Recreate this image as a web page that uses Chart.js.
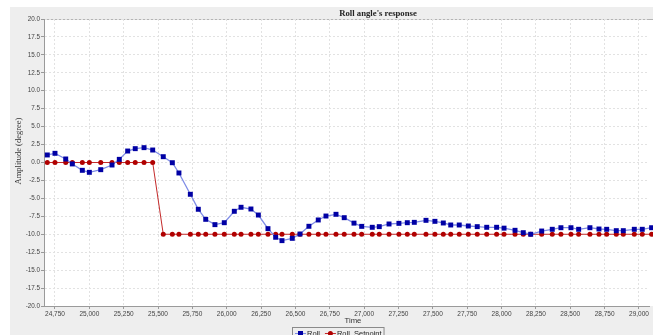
<!DOCTYPE html>
<html><head><meta charset="utf-8">
<script src="https://cdn.jsdelivr.net/npm/chart.js@4"></script>
<style>html,body{margin:0;padding:0;background:#fff;overflow:hidden}#wrap{width:653px;height:335px;position:relative}</style>
</head><body><div id="wrap"><canvas id="c" width="653" height="335"></canvas></div>
<script>
const chartTitle = "Roll angle's response";
const xTitle = "Time";
const yTitle = "Amplitude (degree)";
const seriesNames = ["Roll", "Roll_Setpoint"];
const times = [24694,24750,24828,24876,24949,25000,25083,25165,25218,25279,25334,25398,25461,25538,25604,25652,25735,25793,25847,25914,25982,26055,26104,26176,26230,26300,26356,26402,26477,26533,26598,26666,26722,26795,26855,26926,26982,27059,27110,27181,27253,27314,27365,27450,27515,27576,27630,27692,27758,27823,27892,27964,28018,28098,28158,28212,28292,28369,28432,28505,28561,28643,28709,28765,28835,28886,28966,29024,29092];
const roll = [1.05,1.28,0.49,-0.2,-1.09,-1.37,-1.0,-0.35,0.44,1.6,1.93,2.07,1.74,0.81,-0.03,-1.46,-4.43,-6.52,-7.92,-8.66,-8.39,-6.8,-6.24,-6.48,-7.32,-9.22,-10.42,-10.89,-10.57,-9.97,-8.89,-8.01,-7.46,-7.22,-7.69,-8.45,-8.9,-9.03,-8.94,-8.57,-8.48,-8.39,-8.34,-8.06,-8.2,-8.43,-8.71,-8.71,-8.85,-8.94,-9.03,-9.03,-9.15,-9.45,-9.78,-10.0,-9.55,-9.31,-9.09,-9.09,-9.31,-9.09,-9.27,-9.31,-9.5,-9.5,-9.31,-9.31,-9.09];
const setpoint = [0,0,0,0,0,0,0,0,0,0,0,0,0,-10,-10,-10,-10,-10,-10,-10,-10,-10,-10,-10,-10,-10,-10,-10,-10,-10,-10,-10,-10,-10,-10,-10,-10,-10,-10,-10,-10,-10,-10,-10,-10,-10,-10,-10,-10,-10,-10,-10,-10,-10,-10,-10,-10,-10,-10,-10,-10,-10,-10,-10,-10,-10,-10,-10,-10,-10];
const xTicks = [24750,25000,25250,25500,25750,26000,26250,26500,26750,27000,27250,27500,27750,28000,28250,28500,28750,29000];
const yTicks = [20,17.5,15,12.5,10,7.5,5,2.5,0,-2.5,-5,-7.5,-10,-12.5,-15,-17.5,-20];

const SANS = "'Liberation Sans', Arial, sans-serif";
const SERIF = "'Liberation Serif', 'Times New Roman', serif";

const deco = {
  id: 'deco',
  beforeDraw(chart) {
    const {ctx, chartArea: a, width, height} = chart;
    ctx.save();
    ctx.fillStyle = '#ffffff'; ctx.fillRect(0, 0, width, height);
    ctx.fillStyle = '#eeeeee'; ctx.fillRect(10, 7, width - 10, height - 7);
    ctx.fillStyle = '#ffffff'; ctx.fillRect(a.left, a.top, width - a.left, a.bottom - a.top);
    ctx.strokeStyle = '#b4b4b4'; ctx.lineWidth = 1;
    ctx.beginPath(); ctx.moveTo(a.left, a.top + 0.5); ctx.lineTo(width, a.top + 0.5); ctx.stroke();
    ctx.restore();
  },
  afterDraw(chart) {
    const {ctx} = chart;
    ctx.save();
    ctx.fillStyle = '#222';
    ctx.font = "bold 8.7px " + SERIF;
    ctx.textAlign = 'center'; ctx.textBaseline = 'middle';
    ctx.fillText(chartTitle, 378, 13.5);
    ctx.save();
    ctx.translate(19, 151);
    ctx.rotate(-Math.PI / 2);
    ctx.font = "8.5px " + SERIF;
    ctx.fillStyle = '#333';
    ctx.fillText(yTitle, 0, 0);
    ctx.restore();
    ctx.font = "7.7px " + SANS;
    ctx.fillStyle = '#333';
    ctx.fillText(xTitle, 353, 321);
    ctx.font = "7.5px " + SANS;
    const ly = 333.5;
    let x = 295;
    const startX = x;
    chart.data.datasets.forEach(d => {
      ctx.strokeStyle = d.borderColor; ctx.lineWidth = 1;
      ctx.beginPath(); ctx.moveTo(x, ly); ctx.lineTo(x + 11, ly); ctx.stroke();
      ctx.fillStyle = d.pointBackgroundColor;
      if (d.pointStyle === 'rect') { ctx.fillRect(x + 3, ly - 2.5, 5, 5); }
      else { ctx.beginPath(); ctx.arc(x + 5.5, ly, 2.5, 0, Math.PI * 2); ctx.fill(); }
      ctx.fillStyle = '#222'; ctx.textAlign = 'left';
      ctx.fillText(d.label, x + 12, ly);
      x += 12 + ctx.measureText(d.label).width + 5;
    });
    ctx.strokeStyle = '#8a8a8a'; ctx.lineWidth = 1;
    ctx.strokeRect(startX - 2.5, 327.5, x - startX, 12);
    ctx.restore();
  }
};

new Chart(document.getElementById('c'), {
  type: 'line',
  data: {
    datasets: [
      {
        label: seriesNames[0],
        data: times.map((t, i) => ({x: t, y: roll[i]})),
        borderColor: '#7f8ce6',
        borderWidth: 1.3,
        pointStyle: 'rect',
        pointRadius: 3.5,
        pointBackgroundColor: '#0000a4',
        pointBorderColor: '#0000a4',
        pointBorderWidth: 0,
        tension: 0,
        clip: false
      },
      {
        label: seriesNames[1],
        data: times.map((t, i) => ({x: t, y: setpoint[i]})),
        borderColor: '#c42a2a',
        borderWidth: 1,
        pointStyle: 'circle',
        pointRadius: 2.5,
        pointBackgroundColor: '#b00000',
        pointBorderColor: '#b00000',
        pointBorderWidth: 0,
        tension: 0,
        clip: false
      }
    ]
  },
  options: {
    responsive: false,
    animation: false,
    devicePixelRatio: 1,
    events: [],
    layout: {padding: {left: 0, right: 0, top: 19, bottom: 0}},
    plugins: {legend: {display: false}, title: {display: false}, tooltip: {enabled: false}},
    scales: {
      x: {
        type: 'linear',
        min: 24670, max: 29073,
        afterBuildTicks: s => { s.ticks = xTicks.map(v => ({value: v})); },
        afterFit: s => { s.height = 29; s.paddingLeft = 0; s.paddingRight = 0; },
        ticks: {
          autoSkip: false, maxRotation: 0,
          callback: v => Number(v).toLocaleString('en-US'),
          font: {family: SANS, size: 6.5}, color: '#444', padding: 1
        },
        grid: {color: '#e2e2e2', lineWidth: 1, tickLength: 3, tickColor: '#999'},
        border: {display: true, color: '#9a9a9a', width: 1, dash: [2, 2]}
      },
      y: {
        min: -20, max: 20,
        afterBuildTicks: s => { s.ticks = yTicks.map(v => ({value: v})); },
        afterFit: s => { s.width = 44; s.paddingTop = 0; s.paddingBottom = 0; },
        ticks: {
          autoSkip: false,
          callback: v => Number(v).toFixed(1),
          font: {family: SANS, size: 6.3}, color: '#444', padding: 1
        },
        grid: {color: '#e2e2e2', lineWidth: 1, tickLength: 3, tickColor: '#999'},
        border: {display: true, color: '#9a9a9a', width: 1, dash: [2, 2]}
      }
    }
  },
  plugins: [deco]
});
</script>
</body></html>
